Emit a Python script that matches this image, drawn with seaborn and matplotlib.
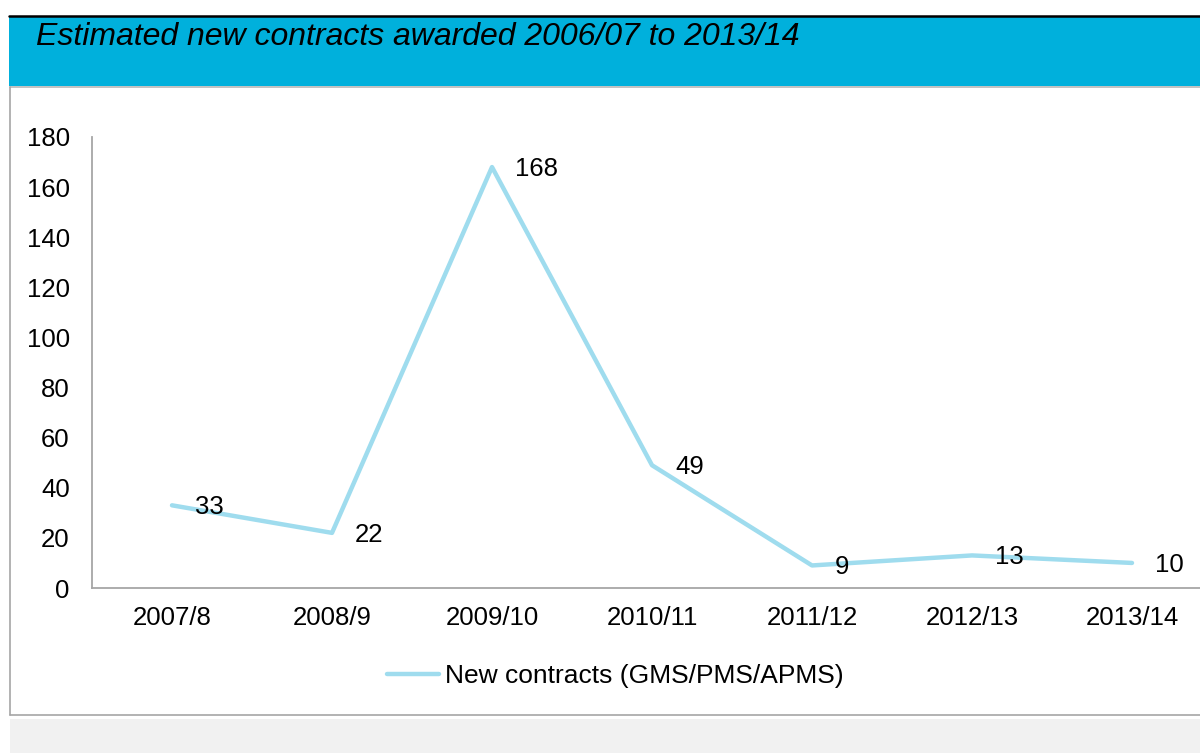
import matplotlib
matplotlib.use("Agg")
import matplotlib.pyplot as plt
import seaborn as sns
import pandas as pd
from matplotlib.patches import Rectangle
from matplotlib.lines import Line2D

# ---- data ----
years = ["2007/8", "2008/9", "2009/10", "2010/11", "2011/12", "2012/13", "2013/14"]
contracts = [33, 22, 168, 49, 9, 13, 10]
series_name = "New contracts (GMS/PMS/APMS)"
title = "Estimated new contracts awarded 2006/07 to 2013/14"
y_ticks = [0, 20, 40, 60, 80, 100, 120, 140, 160, 180]

sns.set_style("white")
plt.rcParams['font.family'] = ['Liberation Sans', 'DejaVu Sans']
plt.rcParams['text.color'] = 'black'

W, H = 1200, 753
fig = plt.figure(figsize=(W / 100, H / 100), dpi=100)
fig.patch.set_facecolor("white")

def fx(px):
    return px / W

def fy(py):
    return 1 - py / H

# background decorations
fig.add_artist(Rectangle((fx(9), fy(86)), fx(1200 - 9), 70 / H, transform=fig.transFigure,
                         facecolor="#00b0dc", edgecolor="none", zorder=0))
fig.add_artist(Line2D([fx(9), 1], [fy(15.5), fy(15.5)], transform=fig.transFigure,
                      color="black", lw=1.8, zorder=1))
fig.add_artist(Line2D([fx(10), 1], [fy(86.5), fy(86.5)], transform=fig.transFigure,
                      color="#b8b8b8", lw=1.2, zorder=1))
fig.add_artist(Line2D([fx(10), fx(10)], [fy(87), fy(714.5)], transform=fig.transFigure,
                      color="#a6a6a6", lw=1.2, zorder=1))
fig.add_artist(Line2D([fx(10), 1], [fy(714.5), fy(714.5)], transform=fig.transFigure,
                      color="#a6a6a6", lw=1.2, zorder=1))
fig.add_artist(Rectangle((fx(10), 0), 1 - fx(10), 34 / H, transform=fig.transFigure,
                         facecolor="#f1f1f1", edgecolor="none", zorder=0))

fig.text(fx(36), fy(45), title, fontsize=23, fontstyle="italic", color="black",
         ha="left", va="baseline")

# axes
left, right, top, bottom = 92, 1212, 137, 588
ax = fig.add_axes([fx(left), fy(bottom), fx(right - left), (bottom - top) / H])
ax.set_facecolor("none")

df = pd.DataFrame({"Year": years, "Contracts": contracts})
sns.lineplot(data=df, x="Year", y="Contracts", sort=False, ax=ax,
             color="#9fdcee", lw=3.2, label=series_name, legend=False)

ax.set_xlim(-0.5, len(years) - 0.5)
ax.set_ylim(0, 180)
ax.set_yticks(y_ticks)
ax.set_xlabel("")
ax.set_ylabel("")
ax.tick_params(axis="both", length=0, labelsize=18.5, colors="black")
ax.tick_params(axis="y", pad=16)
ax.tick_params(axis="x", pad=13)
for s in ["top", "right"]:
    ax.spines[s].set_visible(False)
for s in ["left", "bottom"]:
    ax.spines[s].set_color("#a6a6a6")
    ax.spines[s].set_linewidth(1.3)

for i, v in enumerate(contracts):
    ax.annotate(str(v), (i, v), xytext=(23, -2), textcoords="offset pixels",
                ha="left", va="center", fontsize=18.5, color="black")

handle = Line2D([], [], color="#9fdcee", lw=3.2)
fig.legend([handle], [series_name], loc="center",
           bbox_to_anchor=(fx(615), fy(676)), frameon=False, fontsize=19,
           handlelength=2.0, handletextpad=0.2, labelcolor="black")

fig.savefig("out.png", dpi=100)
